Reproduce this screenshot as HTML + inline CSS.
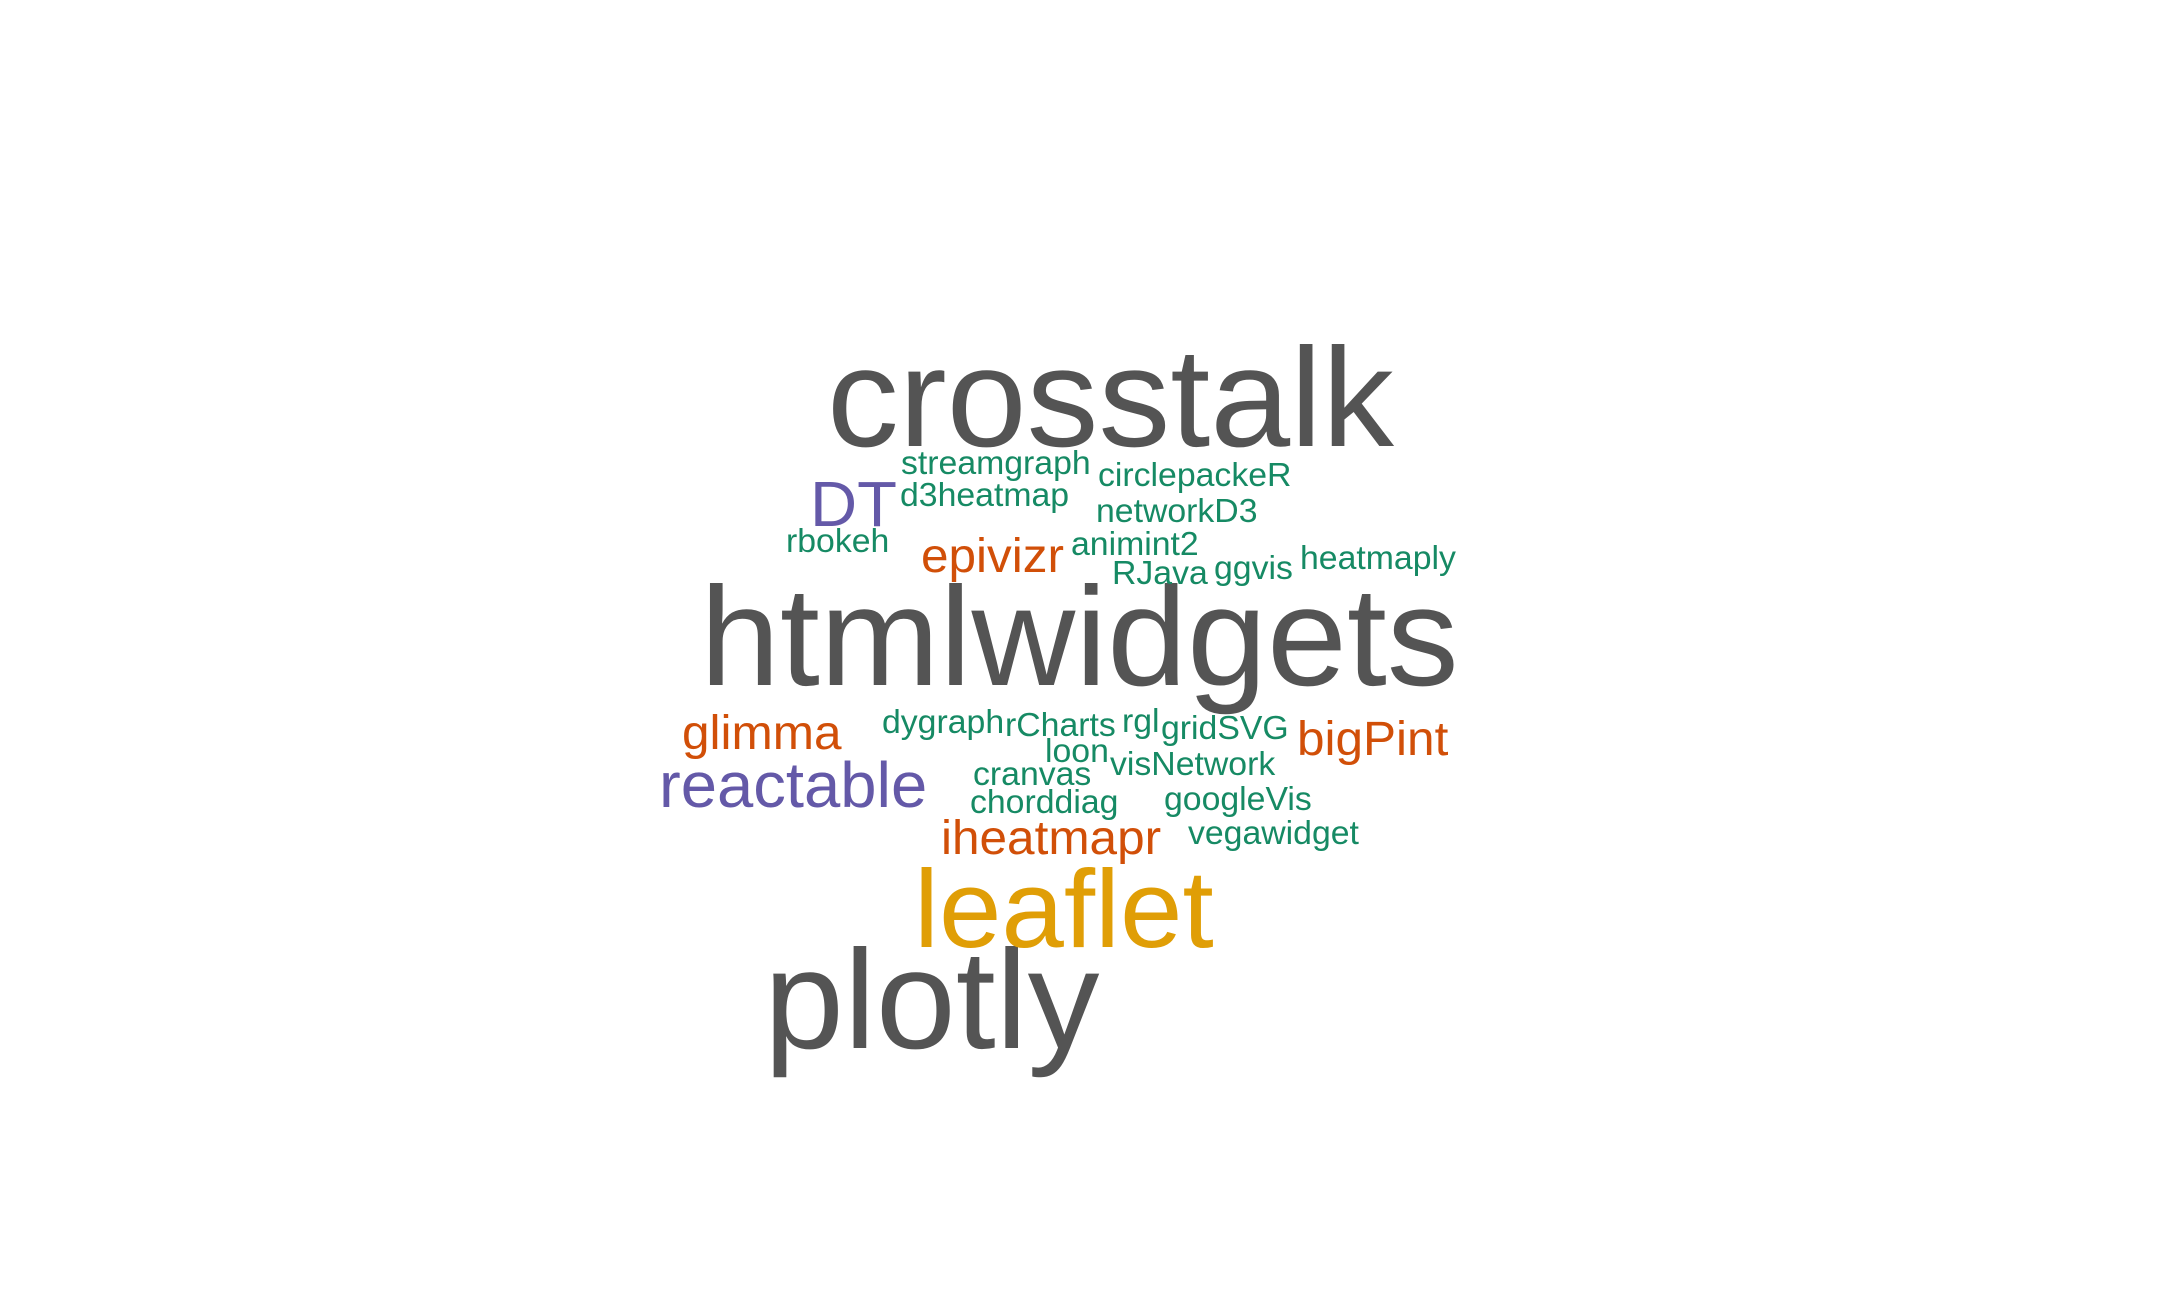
<!DOCTYPE html>
<html lang="en">
<head>
<meta charset="utf-8">
<title>R htmlwidgets packages word cloud</title>
<style>
  html, body { margin: 0; padding: 0; background: #ffffff; }
  #cloud { display: block; width: 2160px; height: 1296px; }
  #cloud text { font-family: "Liberation Sans", Arial, sans-serif; }
</style>
</head>
<body>
<svg id="cloud" xmlns="http://www.w3.org/2000/svg" width="2160" height="1296" viewBox="0 0 2160 1296"></svg>
<script>
// Chart data: package names and how often each one occurs.
const words = ["crosstalk", "htmlwidgets", "plotly", "leaflet", "reactable", "DT",
  "epivizr", "glimma", "bigPint", "iheatmapr",
  "streamgraph", "d3heatmap", "circlepackeR", "networkD3", "rbokeh", "animint2",
  "RJava", "ggvis", "heatmaply", "dygraph", "rCharts", "rgl", "gridSVG", "loon",
  "visNetwork", "cranvas", "chorddiag", "googleVis", "vegawidget"];
const counts = [8, 8, 8, 6, 3, 3,
  2, 2, 2, 2,
  1, 1, 1, 1, 1, 1,
  1, 1, 1, 1, 1, 1, 1, 1,
  1, 1, 1, 1, 1];

// Word-cloud placement (layout only, it carries no data meaning).
const placement = {
  crosstalk: [827, 446], htmlwidgets: [700, 685], plotly: [764, 1048], leaflet: [914, 947],
  reactable: [659, 807], DT: [810, 526], epivizr: [921, 572], glimma: [682, 749],
  bigPint: [1297, 755], iheatmapr: [941, 854], streamgraph: [901, 474], d3heatmap: [900, 506],
  circlepackeR: [1098, 486], networkD3: [1096, 522], rbokeh: [786, 552], animint2: [1071, 555],
  RJava: [1112, 584], ggvis: [1214, 579], heatmaply: [1300, 569], dygraph: [882, 733],
  rCharts: [1005, 736], rgl: [1122, 732], gridSVG: [1161, 739], loon: [1045, 762],
  visNetwork: [1110, 775], cranvas: [973, 785], chorddiag: [970, 813], googleVis: [1164, 810],
  vegawidget: [1188, 844]
};

function sizeScale(count) {
  return 33.8 + 15.7 * (count - 1);
}
function colorScale(count) {
  if (count <= 1) return "#168a64";
  if (count === 2) return "#d14f08";
  if (count <= 4) return "#6459a8";
  if (count <= 6) return "#e09e06";
  return "#545454";
}

const svg = document.getElementById("cloud");
words.forEach(function (word, i) {
  const el = document.createElementNS("http://www.w3.org/2000/svg", "text");
  el.setAttribute("transform", "translate(" + placement[word][0] + " " + placement[word][1] + ") scale(1 0.98)");
  el.setAttribute("font-size", sizeScale(counts[i]));
  el.setAttribute("fill", colorScale(counts[i]));
  
  
  el.textContent = word;
  svg.appendChild(el);
});
</script>
</body>
</html>
